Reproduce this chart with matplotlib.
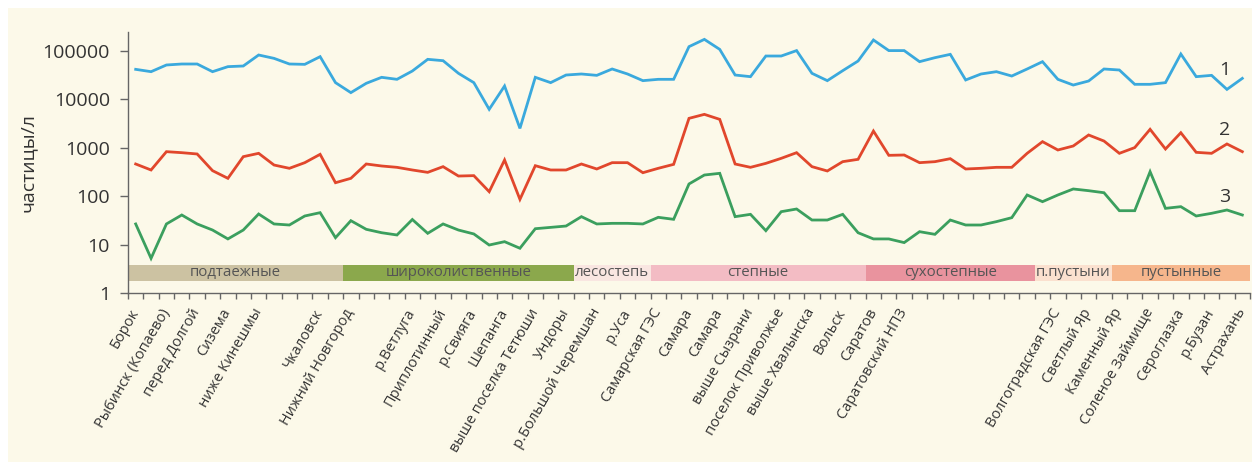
import matplotlib
matplotlib.use("Agg")
import matplotlib.pyplot as plt
from matplotlib.patches import Rectangle

plt.rcParams['font.family'] = ['Open Sans', 'DejaVu Sans']

# Sampling stations along the Volga (73 points, only some are labelled)
stations = [
    "Борок", "", "Рыбинск (Копаево)", "", "перед Долгой", "", "Сизема", "",
    "ниже Кинешмы", "", "", "", "Чкаловск", "", "Нижний Новгород", "", "", "",
    "р.Ветлуга", "", "Приплотинный", "", "р.Свияга", "", "Шепанга", "",
    "выше поселка Тетюши", "", "Ундоры", "", "р.Большой Черемшан", "", "р.Уса", "",
    "Самарская ГЭС", "", "Самара", "", "Самара", "", "выше Сызрани", "",
    "поселок Приволжье", "", "выше Хвалынска", "", "Вольск", "", "Саратов", "",
    "Саратовский НПЗ", "", "", "", "", "", "", "", "", "",
    "Волгоградская ГЭС", "", "Светлый Яр", "", "Каменный Яр", "", "Соленое Займище", "",
    "Сероглазка", "", "р.Бузан", "", "Астрахань",
]

# 1 - total particles, 2 and 3 - particle fractions (particles per litre)
series_1 = [41800, 37400, 51400, 53900, 53900, 37400, 47500, 49000, 82700, 70500,
            53900, 53000, 76400, 22200, 13800, 21500, 28600, 26000, 38600, 67300,
            63100, 34600, 22200, 6240, 18900, 2520, 28600, 22200, 31900, 33500,
            31400, 42500, 33500, 24400, 26000, 26000, 123000, 174000, 108000, 31900,
            29500, 78800, 78800, 102000, 34600, 24400, 39200, 62100, 169000, 102000,
            102000, 60200, 72800, 85300, 25200, 33500, 37400, 30400, 42500, 60200,
            26000, 19800, 24000, 42500, 40500, 20500, 20500, 22200, 86700, 29500,
            31400, 16100, 27200]
series_2 = [463, 348, 832, 793, 745, 337, 234, 656, 769, 441,
            377, 493, 733, 190, 234, 463, 421, 395, 348, 311,
            408, 261, 266, 124, 560, 86, 427, 348, 348, 463,
            365, 493, 493, 306, 377, 455, 4060, 4910, 3870, 463,
            395, 477, 606, 793, 408, 332, 517, 578, 2220, 699,
            710, 493, 517, 596, 365, 377, 395, 395, 769, 1340,
            901, 1090, 1840, 1380, 769, 1010, 2410, 944, 2050, 806,
            769, 1200, 832]
series_3 = [26.7, 5.2, 26.7, 40.9, 26.7, 20.0, 13.1, 20.0, 42.9, 26.7,
            25.4, 39.0, 45.7, 13.9, 31.2, 20.7, 17.6, 15.8, 33.0, 17.1,
            26.7, 20.0, 16.6, 9.8, 11.5, 8.4, 21.3, 22.7, 24.2, 37.8,
            26.7, 27.5, 27.5, 26.7, 36.6, 33.3, 179, 274, 297, 37.8,
            42.2, 19.4, 47.9, 54.4, 32.2, 32.2, 42.2, 17.6, 13.1, 13.1,
            11.0, 18.5, 16.3, 32.2, 25.4, 25.4, 29.8, 36.0, 106, 77.1,
            106, 141, 130, 118, 50.2, 50.2, 321, 56.1, 60.8, 39.0,
            44.3, 51.9, 40.9]

# Natural zones: name, first and last station index
zone_names = ["подтаежные", "широколиственные", "лесостепь", "степные",
              "сухостепные", "п.пустыни", "пустынные"]
zone_start = [0, 14, 29, 34, 48, 59, 64]
zone_end = [13, 28, 33, 47, 58, 63, 72]
zone_colors = ["#ccc2a2", "#8ba84c", "#f9e6e1", "#f3bcc4",
               "#e9939e", "#fbe1cf", "#f6b68c"]

yticks = [1, 10, 100, 1000, 10000, 100000]

bg = "#fcf9e9"
fig = plt.figure(figsize=(12.52, 4.62), dpi=100, facecolor="white")
fig.patches.append(Rectangle((8 / 1252, 0), 1 - 8 / 1252, 1 - 8 / 462,
                             transform=fig.transFigure, facecolor=bg,
                             edgecolor="none", zorder=-10))

ax = fig.add_axes([128 / 1252, 169 / 462, 1122 / 1252, 261 / 462])
ax.set_facecolor("none")
ax.set_yscale("log")
ax.set_ylim(1, 2.47e5)
ax.set_xlim(-0.5, len(stations) - 0.5)

x = list(range(len(stations)))
ax.plot(x, series_1, color="#3aa9dd", lw=2.0, solid_joinstyle="miter", zorder=3)
ax.plot(x, series_2, color="#e1472c", lw=2.0, solid_joinstyle="miter", zorder=3)
ax.plot(x, series_3, color="#3b9f5e", lw=2.0, solid_joinstyle="miter", zorder=3)

# zone strip
band_lo, band_hi = 1.77, 3.79
for name, s, e, c in zip(zone_names, zone_start, zone_end, zone_colors):
    ax.fill_between([s - 0.5, e + 0.5], band_lo, band_hi, color=c, lw=0, zorder=1)
    ax.text((s + e) / 2, (band_lo * band_hi) ** 0.5, name, ha="center",
            va="center", fontsize=10.8, color="#555555", zorder=2)

# series numbers
ax.text(70.85, 40500, "1", fontsize=14, color="#333333", ha="center", va="center")
ax.text(70.85, 2330, "2", fontsize=14, color="#333333", ha="center", va="center")
ax.text(70.85, 96, "3", fontsize=14, color="#333333", ha="center", va="center")

for side in ("top", "right"):
    ax.spines[side].set_visible(False)
for side in ("left", "bottom"):
    ax.spines[side].set_color("#666666")
    ax.spines[side].set_linewidth(1.0)

ax.set_yticks(yticks)
ax.set_yticklabels([str(v) for v in yticks])
ax.yaxis.set_minor_locator(matplotlib.ticker.NullLocator())
ax.tick_params(axis="y", which="major", length=6, width=1.0, color="#666666",
               pad=7, labelsize=14, labelcolor="#333333")

ax.set_xticks([i - 0.5 for i in range(len(stations) + 1)], minor=True)
ax.set_xticks(x)
ax.set_xticklabels(stations, rotation=60, ha="right", va="center",
                   rotation_mode="anchor")
ax.tick_params(axis="x", which="major", length=0, pad=12, labelsize=10.5,
               labelcolor="#333333")
ax.tick_params(axis="x", which="minor", length=4.5, width=1.0, color="#666666")

ax.set_ylabel("частицы/л", fontsize=14, color="#333333", labelpad=4)

fig.savefig("out.png", dpi=100, facecolor=fig.get_facecolor())
